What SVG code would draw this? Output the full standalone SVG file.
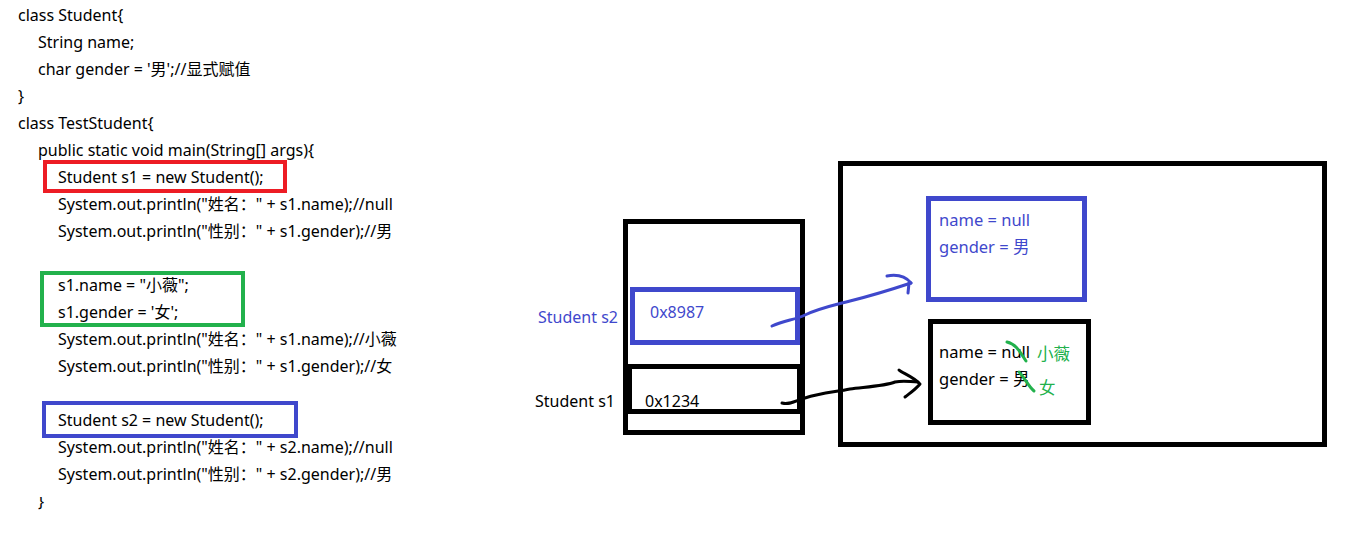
<svg xmlns="http://www.w3.org/2000/svg" width="1352" height="536" viewBox="0 0 1352 536">
<style>
text{font-family:"Noto Sans","Noto Sans CJK SC",sans-serif;font-size:16px;fill:#000}
.blue{fill:#3F48CC}
.green{fill:#22B14C}
.h{font-size:16.5px}
.box{fill:none;stroke:#000;stroke-width:5}
.bbox{fill:none;stroke:#3F48CC;stroke-width:5}
.pen{fill:none;stroke-linecap:round;stroke-linejoin:round;stroke-width:3}
</style>
<defs>
<clipPath id="cut"><rect x="0" y="497" width="200" height="39"/></clipPath>
</defs>
<rect width="1352" height="536" fill="#fff"/>
<g id="code">
<text x="18" y="21">class Student{</text>
<text x="38" y="48">String name;</text>
<text x="38" y="75">char gender = '男';//显式赋值</text>
<text x="18" y="102">}</text>
<text x="18" y="129">class TestStudent{</text>
<text x="38" y="156">public static void main(String[] args){</text>
<text x="58" y="183">Student s1 = new Student();</text>
<text x="58" y="210">System.out.println("姓名：" + s1.name);//null</text>
<text x="58" y="237">System.out.println("性别：" + s1.gender);//男</text>
<text x="58" y="291">s1.name = "小薇";</text>
<text x="58" y="318">s1.gender = '女';</text>
<text x="58" y="345">System.out.println("姓名：" + s1.name);//小薇</text>
<text x="58" y="372">System.out.println("性别：" + s1.gender);//女</text>
<text x="58" y="426">Student s2 = new Student();</text>
<text x="58" y="453">System.out.println("姓名：" + s2.name);//null</text>
<text x="58" y="480">System.out.println("性别：" + s2.gender);//男</text>
<text x="38" y="507" clip-path="url(#cut)">}</text>
</g>
<g id="highlights">
<rect x="45" y="162" width="240" height="29" fill="none" stroke="#ED1C24" stroke-width="4"/>
<rect x="42" y="273" width="201" height="52" fill="none" stroke="#22B14C" stroke-width="4"/>
<rect x="44" y="403" width="252" height="33" fill="none" stroke="#3F48CC" stroke-width="4"/>
</g>
<g id="stack">
<rect class="box" x="625.500" y="221.500" width="177" height="211"/>
<rect class="bbox" x="632.500" y="289.500" width="165" height="53"/>
<rect class="box" x="629.500" y="366.500" width="170" height="45"/>
<text class="blue" x="538" y="323">Student s2</text>
<text x="535" y="407">Student s1</text>
<text class="blue" x="650" y="318">0x8987</text>
<text x="645" y="407">0x1234</text>
</g>
<g id="heap">
<rect class="box" x="840.500" y="163.500" width="484" height="281"/>
</g>
<g id="obj2">
<rect class="bbox" x="928.500" y="198.500" width="156" height="101"/>
<text class="blue h" x="939" y="226">name = null</text>
<text class="blue h" x="939" y="253">gender = 男</text>
</g>
<g id="obj1">
<rect class="box" x="930.500" y="321.500" width="158" height="101"/>
<text class="h" x="939" y="358">name = null</text>
<text class="h" x="939" y="385">gender = 男</text>
<text class="green h" x="1037" y="360">小薇</text>
<text class="green h" x="1039" y="394">女</text>
<path class="pen" d="M1007,342 C1016,344 1020,352 1026,361" stroke="#22B14C"/>
<path class="pen" d="M1019,372 C1025,378 1028,386 1034,391" stroke="#22B14C"/>
</g>
<g id="connectors">
<path class="pen" stroke="#3F48CC" d="M772,326 C785,320 795,320 805,315 C820,308 835,305 850,301 C870,296 890,290 911,283"/>
<path class="pen" stroke="#3F48CC" d="M887,276 C898,274 906,277 911,283 M909,283 L908,293"/>
<path class="pen" stroke="#000" d="M782,403 C790,405 795,401 805,398 C820,393 835,392 850,389 C865,387 885,386 895,382 C905,380 910,382 918,382"/>
<path class="pen" stroke="#000" d="M899,370 C902,373 912,376 920,384 C915,390 910,393 905,397"/>
</g>
</svg>
